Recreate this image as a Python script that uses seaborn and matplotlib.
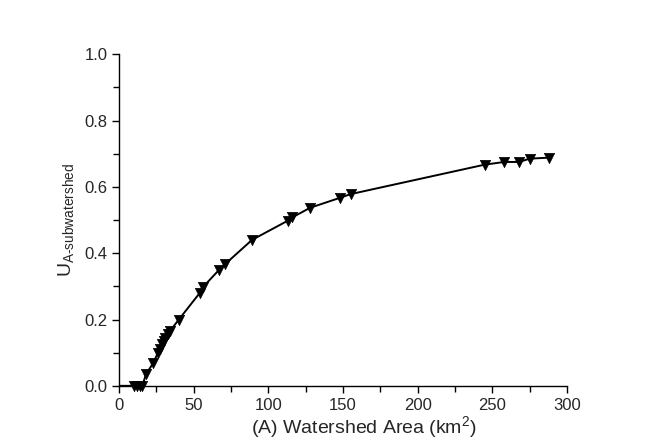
import numpy as np
import pandas as pd
import matplotlib.pyplot as plt
import seaborn as sns
from matplotlib.ticker import MultipleLocator

# === Data ===
area_km2 = [10, 12, 14, 15.5, 18, 23, 26, 27.5, 29, 30, 31, 32.5, 34, 40,
            54, 56, 67, 71, 89, 113, 116, 128, 148, 155,
            245, 258, 268, 275, 288]
u_sub = [0.0, 0.0, 0.0, 0.0, 0.035, 0.07, 0.10, 0.11, 0.125, 0.135, 0.145, 0.155, 0.165, 0.20,
         0.28, 0.297, 0.35, 0.367, 0.44, 0.498, 0.508, 0.537, 0.567, 0.578,
         0.667, 0.675, 0.675, 0.685, 0.688]

df = pd.DataFrame({"area": area_km2, "u": u_sub})
line_df = pd.DataFrame({"area": [0] + area_km2, "u": [0.0] + u_sub})

# === Style ===
sns.set_style("ticks")
plt.rcParams['font.family'] = ['Liberation Sans', 'DejaVu Sans']
plt.rcParams['mathtext.fontset'] = 'custom'
plt.rcParams['mathtext.rm'] = 'Liberation Sans'
plt.rcParams['mathtext.it'] = 'Liberation Sans:italic'

fig = plt.figure(figsize=(6.51, 4.44), dpi=100)
ax = fig.add_axes([0.183, 0.131, 0.688, 0.747])

sns.lineplot(data=line_df, x="area", y="u", color="black", linewidth=1.4, ax=ax)
sns.scatterplot(data=df, x="area", y="u", marker="v", color="black", s=55,
                edgecolor="black", linewidth=0.5, zorder=3, ax=ax, clip_on=False)

ax.set_xlim(0, 300)
ax.set_ylim(0, 1.0)
ax.xaxis.set_major_locator(MultipleLocator(50))
ax.xaxis.set_minor_locator(MultipleLocator(25))
ax.yaxis.set_major_locator(MultipleLocator(0.2))
ax.yaxis.set_minor_locator(MultipleLocator(0.1))
ax.yaxis.set_major_formatter(plt.FormatStrFormatter('%.1f'))
ax.tick_params(which="major", direction="out", length=5, width=1, labelsize=12, color="black")
ax.tick_params(which="minor", direction="out", length=4, width=1, color="black")

for s in ["top", "right"]:
    ax.spines[s].set_visible(False)
for s in ["left", "bottom"]:
    ax.spines[s].set_color("black")
    ax.spines[s].set_linewidth(1)

ax.set_xlabel("(A) Watershed Area (km$^2$)", fontsize=14)
ax.xaxis.set_label_coords(0.547, -0.085)
ax.set_ylabel(r"U$_{\mathrm{A\text{-}subwatershed}}$", fontsize=14, labelpad=6)

plt.savefig("out.png", dpi=100)
